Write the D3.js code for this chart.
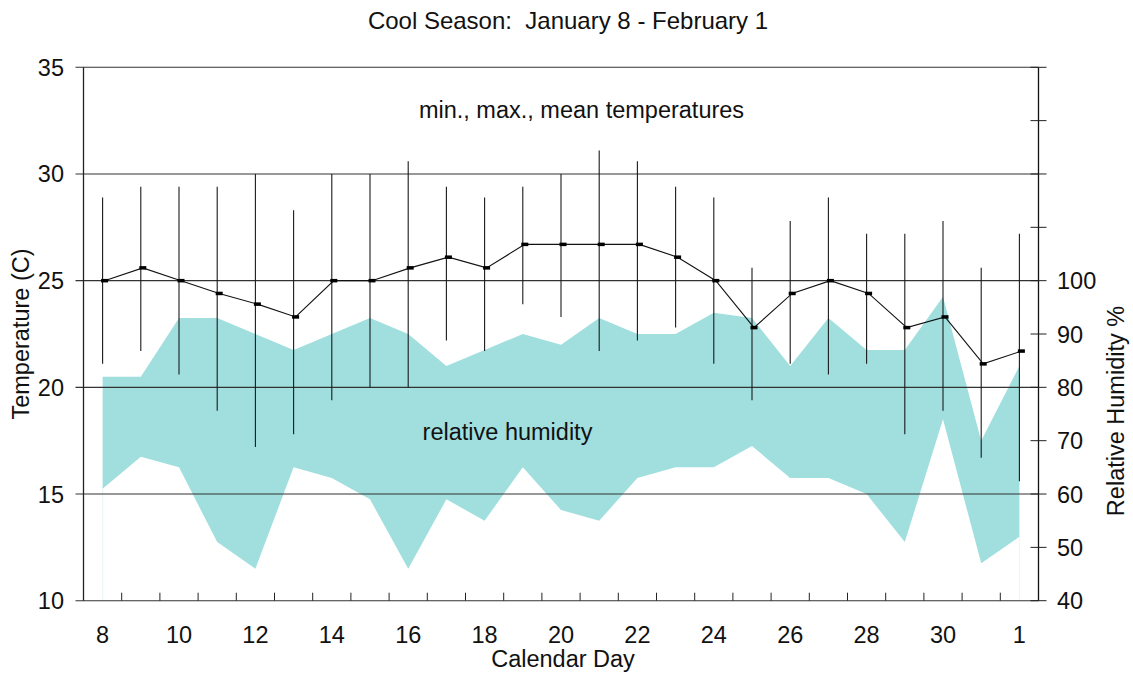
<!DOCTYPE html>
<html>
<head>
<meta charset="utf-8">
<script src="https://cdn.jsdelivr.net/npm/d3@7"></script>
<style>
  html, body { margin: 0; padding: 0; background: #fff; }
  text { font-family: "Liberation Sans", Arial, sans-serif; fill: #111; }
</style>
</head>
<body>
<script>
// Calendar days: Jan 8 .. Jan 31, then Feb 1 (day 32 on the axis)
const days = d3.range(8, 33);
const dayLabels = ['8', '9', '10', '11', '12', '13', '14', '15', '16', '17', '18', '19', '20',
  '21', '22', '23', '24', '25', '26', '27', '28', '29', '30', '31', '1'];

// Temperatures (C)
const tMax = [28.9, 29.4, 29.4, 29.4, 30.0, 28.3, 30.0, 30.0, 30.6, 29.4, 28.9, 29.4, 30.0,
  31.1, 30.6, 29.4, 28.9, 25.6, 27.8, 28.9, 27.2, 27.2, 27.8, 25.6, 27.2];
const tMin = [21.1, 21.7, 20.6, 18.9, 17.2, 17.8, 19.4, 20.0, 20.0, 22.2, 21.7, 23.9, 23.3,
  21.7, 22.2, 22.8, 21.1, 19.4, 21.1, 20.6, 21.1, 17.8, 18.9, 16.7, 15.6];
const tMean = [25.0, 25.6, 25.0, 24.4, 23.9, 23.3, 25.0, 25.0, 25.6, 26.1, 25.6, 26.7, 26.7,
  26.7, 26.7, 26.1, 25.0, 22.8, 24.4, 25.0, 24.4, 22.8, 23.3, 21.1, 21.7];

// Relative humidity (%)
const rhMax = [82, 82, 93, 93, 90, 87, 90, 93, 90, 84, 87, 90, 88,
  93, 90, 90, 94, 93, 84, 93, 87, 87, 97, 70, 84];
const rhMin = [61, 67, 65, 51, 46, 65, 63, 59, 46, 59, 55, 65, 57,
  55, 63, 65, 65, 69, 63, 63, 60, 51, 74, 47, 52];

const tempTicks = [10, 15, 20, 25, 30, 35];
const rhTicks = [40, 50, 60, 70, 80, 90, 100, 110, 120, 130, 140];
const rhLabelled = [40, 50, 60, 70, 80, 90, 100];

const W = 1133, H = 675;
const plotLeft = 83.5, plotRight = 1038.5, plotTop = 67.3, plotBottom = 600.7;
const bandColor = '#a1dfdf';
const fontSize = '23.5px';

const rows = days.map((d, i) => ({
  day: d, label: dayLabels[i],
  max: tMax[i], min: tMin[i], mean: tMean[i],
  rhMax: rhMax[i], rhMin: rhMin[i],
}));

const x = d3.scaleLinear().domain([7.5, 32.5]).range([plotLeft, plotRight]);
const yT = d3.scaleLinear().domain([10, 35]).range([plotBottom, plotTop]);
const yRH = d3.scaleLinear().domain([40, 140]).range([plotBottom, plotTop]);

const svg = d3.select('body').append('svg')
  .attr('width', W)
  .attr('height', H);

// Humidity band
svg.append('path')
  .datum(rows)
  .attr('d', d3.area()
    .x(d => x(d.day))
    .y0(d => yRH(d.rhMin))
    .y1(d => yRH(d.rhMax)))
  .attr('fill', bandColor);

// faint edges under the band at both ends
svg.selectAll('.band-edge')
  .data([rows[0], rows[rows.length - 1]])
  .enter()
  .append('line')
  .attr('x1', d => x(d.day)).attr('x2', d => x(d.day))
  .attr('y1', d => yRH(d.rhMin)).attr('y2', plotBottom)
  .attr('stroke', bandColor)
  .attr('stroke-opacity', 0.25);

// Horizontal grid lines (with the outward left ticks)
svg.selectAll('.grid')
  .data(tempTicks)
  .enter()
  .append('line')
  .attr('x1', plotLeft - 8).attr('x2', plotRight)
  .attr('y1', d => yT(d)).attr('y2', d => yT(d))
  .attr('stroke', '#333')
  .attr('stroke-width', 1.1);

// Left axis line and labels
svg.append('line')
  .attr('x1', plotLeft).attr('x2', plotLeft)
  .attr('y1', plotTop).attr('y2', plotBottom)
  .attr('stroke', '#222').attr('stroke-width', 1.3);

svg.selectAll('.tlabel')
  .data(tempTicks)
  .enter()
  .append('text')
  .attr('x', 64)
  .attr('y', d => yT(d) + 8.5)
  .attr('text-anchor', 'end')
  .style('font-size', fontSize)
  .text(d => d);

// Right axis line, ticks crossing both sides, labels up to 100
svg.append('line')
  .attr('x1', plotRight).attr('x2', plotRight)
  .attr('y1', plotTop).attr('y2', plotBottom)
  .attr('stroke', '#111').attr('stroke-width', 1.3);

svg.selectAll('.rtick')
  .data(rhTicks)
  .enter()
  .append('line')
  .attr('x1', plotRight - 8).attr('x2', plotRight + 8)
  .attr('y1', d => yRH(d)).attr('y2', d => yRH(d))
  .attr('stroke', '#222');

svg.selectAll('.rlabel')
  .data(rhLabelled)
  .enter()
  .append('text')
  .attr('x', 1057)
  .attr('y', d => yRH(d) + 8.5)
  .style('font-size', fontSize)
  .text(d => d);

// Bottom axis: small inward ticks between the days
svg.selectAll('.xtick')
  .data(rows.slice(0, -1))
  .enter()
  .append('line')
  .attr('x1', d => x(d.day + 0.5)).attr('x2', d => x(d.day + 0.5))
  .attr('y1', plotBottom - 8).attr('y2', plotBottom)
  .attr('stroke', '#222');

svg.selectAll('.xlabel')
  .data(rows.filter((d, i) => i % 2 === 0))
  .enter()
  .append('text')
  .attr('x', d => x(d.day))
  .attr('y', 643)
  .attr('text-anchor', 'middle')
  .style('font-size', fontSize)
  .text(d => d.label);

// Min-max bars
svg.selectAll('.range')
  .data(rows)
  .enter()
  .append('line')
  .attr('x1', d => x(d.day)).attr('x2', d => x(d.day))
  .attr('y1', d => yT(d.max)).attr('y2', d => yT(d.min))
  .attr('stroke', '#1a1a1a')
  .attr('stroke-width', 1.1);

// Mean line and markers
const meanOffset = 2;
svg.append('path')
  .datum(rows)
  .attr('d', d3.line()
    .x(d => x(d.day) + meanOffset)
    .y(d => yT(d.mean)))
  .attr('fill', 'none')
  .attr('stroke', '#111')
  .attr('stroke-width', 1.1);

svg.selectAll('.mean')
  .data(rows)
  .enter()
  .append('rect')
  .attr('x', d => x(d.day) + meanOffset - 3.5)
  .attr('y', d => yT(d.mean) - 1.75)
  .attr('width', 7)
  .attr('height', 3.5)
  .attr('fill', '#000');

// Texts
svg.append('text')
  .attr('x', 568).attr('y', 29)
  .attr('text-anchor', 'middle')
  .style('font-size', '24px')
  .style('white-space', 'pre')
  .text('Cool Season:  January 8 - February 1');

svg.append('text')
  .attr('x', 581.5).attr('y', 118)
  .attr('text-anchor', 'middle')
  .style('font-size', fontSize)
  .text('min., max., mean temperatures');

svg.append('text')
  .attr('x', 507.5).attr('y', 440)
  .attr('text-anchor', 'middle')
  .style('font-size', fontSize)
  .text('relative humidity');

svg.append('text')
  .attr('x', 563).attr('y', 667)
  .attr('text-anchor', 'middle')
  .style('font-size', fontSize)
  .text('Calendar Day');

svg.append('text')
  .attr('transform', 'translate(29, 334) rotate(-90)')
  .attr('text-anchor', 'middle')
  .style('font-size', fontSize)
  .text('Temperature (C)');

svg.append('text')
  .attr('transform', 'translate(1124, 411) rotate(-90)')
  .attr('text-anchor', 'middle')
  .style('font-size', fontSize)
  .text('Relative Humidity %');
</script>
</body>
</html>
